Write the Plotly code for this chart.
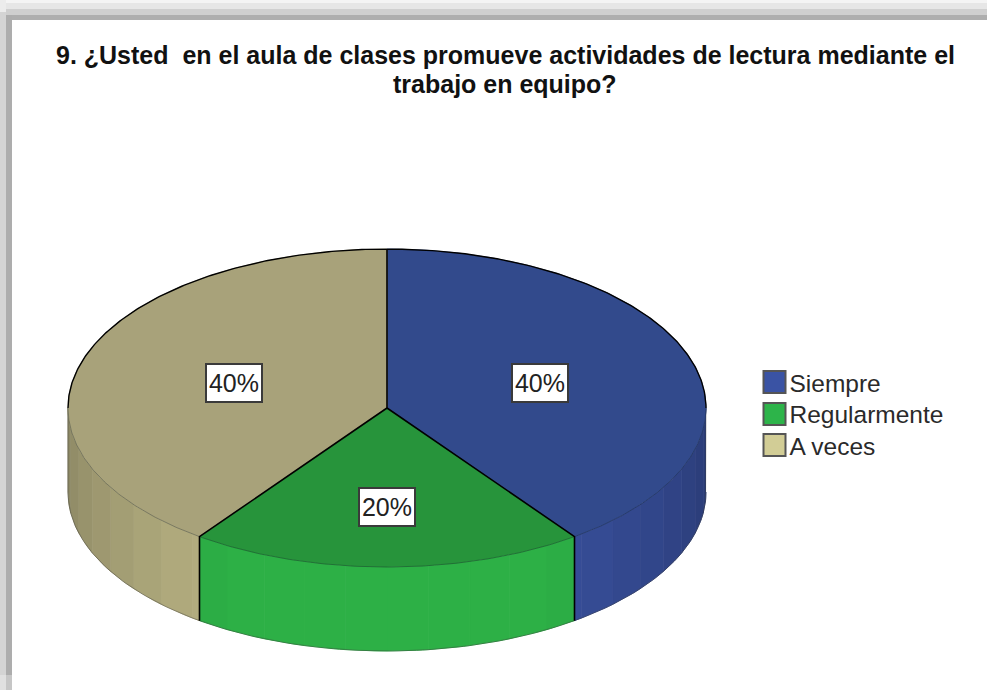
import numpy as np
import plotly.graph_objects as go

title_lines = ["9. ¿Usted\u00a0\u00a0en el aula de clases promueve actividades de lectura mediante el", "trabajo en equipo?"]
categories = ["Siempre", "Regularmente", "A veces"]
values = [40, 20, 40]
top_colors = ["#324a8c", "#27943b", "#a8a27a"]
side_colors = [(56, 79, 155), (45, 176, 70), (184, 178, 131)]
legend_colors = ["#3a53a4", "#2db44a", "#d2cd96"]
label_radius = [0.505, 0.62, 0.505]

CX, CY, RX, RY, DEPTH = 387, 408, 319, 159, 84
BAND = 7.5
FONT = "Liberation Sans, Arial, sans-serif"


def ex(a):
    return CX + RX * np.sin(np.radians(a))


def ey(a, d=0):
    return CY - RY * np.cos(np.radians(a)) + d


def shade(rgb, a):
    d = abs(a - 180)
    f = 1 - 0.25 * max(0.0, (d - 30) / 60)
    return "rgb(%d,%d,%d)" % tuple(int(c * f) for c in rgb)


fig = go.Figure()
total = sum(values)
edges = np.concatenate([[0], np.cumsum(values) / total * 360])

# side wall, in bands along the visible front half
for i in range(len(values)):
    lo, hi = max(edges[i], 90), min(edges[i + 1], 270)
    if hi <= lo:
        continue
    bands = np.arange(np.floor(lo / BAND) * BAND, hi, BAND)
    for b in bands:
        a0, a1 = max(b, lo), min(b + BAND, hi)
        arc = np.linspace(a0, a1, 8)
        mid = (a0 + a1) / 2
        col = shade(side_colors[i], mid)
        fig.add_trace(go.Scatter(
            x=np.concatenate([ex(arc), ex(arc[::-1])]),
            y=np.concatenate([ey(arc), ey(arc[::-1], DEPTH)]),
            mode="lines", fill="toself", fillcolor=col,
            line=dict(color=col, width=1), hoverinfo="skip", showlegend=False))

# outer lower silhouette, with the vertical ends
arc = np.linspace(90, 270, 181)
fig.add_trace(go.Scatter(
    x=np.concatenate([[ex(90.0)], ex(arc), [ex(270.0)]]),
    y=np.concatenate([[ey(90.0)], ey(arc, DEPTH), [ey(270.0)]]),
    mode="lines", line=dict(color="rgba(60,60,60,0.6)", width=0.7),
    hoverinfo="skip", showlegend=False))

# top face
for i, cat in enumerate(categories):
    arc = np.linspace(edges[i], edges[i + 1], 200)
    fig.add_trace(go.Scatter(
        x=np.concatenate([[CX], ex(arc), [CX]]),
        y=np.concatenate([[CY], ey(arc), [CY]]),
        mode="lines", fill="toself", fillcolor=top_colors[i],
        line=dict(color=top_colors[i], width=0.8),
        hoverinfo="skip", showlegend=False))

# rim: thin darker front, black back
for i in range(len(values)):
    lo, hi = max(edges[i], 90), min(edges[i + 1], 270)
    if hi > lo:
        arc = np.linspace(lo, hi, 120)
        fig.add_trace(go.Scatter(x=ex(arc), y=ey(arc), mode="lines",
                                 line=dict(color="rgba(20,30,40,0.4)", width=0.8),
                                 hoverinfo="skip", showlegend=False))
arc = np.linspace(-90, 90, 300)
fig.add_trace(go.Scatter(x=ex(arc), y=ey(arc), mode="lines",
                         line=dict(color="#000000", width=1.4),
                         hoverinfo="skip", showlegend=False))

# slice boundaries
for e in edges[:-1]:
    a = float(e)
    xs, ys = [CX, ex(a)], [CY, ey(a)]
    if 90 < a < 270:
        xs.append(ex(a))
        ys.append(ey(a, DEPTH))
    fig.add_trace(go.Scatter(x=xs, y=ys, mode="lines",
                             line=dict(color="#000000", width=1.6),
                             hoverinfo="skip", showlegend=False))

# legend
legend_swatch_y = [382, 414, 445]
legend_text_y = [385.5, 416.5, 448.5]
fig.add_trace(go.Scatter(
    x=[774.5] * 3, y=legend_swatch_y, mode="markers",
    marker=dict(symbol="square", size=22, color=legend_colors,
                line=dict(color="#555555", width=2)),
    hoverinfo="skip", showlegend=False))
fig.add_trace(go.Scatter(
    x=[789.5] * 3, y=legend_text_y, mode="text",
    text=categories, textposition="middle right",
    textfont=dict(family=FONT, size=24.5, color="#2a2a2a"),
    hoverinfo="skip", showlegend=False))

# percent labels
annotations = []
for i, v in enumerate(values):
    mid = (edges[i] + edges[i + 1]) / 2
    annotations.append(dict(
        x=CX + RX * label_radius[i] * np.sin(np.radians(mid)),
        y=CY - RY * label_radius[i] * np.cos(np.radians(mid)),
        xref="x", yref="y", text=f"{v}%", showarrow=False,
        width=54, height=36,
        font=dict(family=FONT, size=25, color="#222222"),
        bgcolor="#ffffff", bordercolor="#3a3a3a", borderwidth=2, borderpad=0))

# title
for line, yy in zip(title_lines, [55, 84]):
    annotations.append(dict(
        x=505, y=yy, xref="x", yref="y", text=f"<b>{line}</b>", showarrow=False,
        font=dict(family=FONT, size=25, color="#111111")))

# screenshot-style frame shadow
shapes = []
frame_rects = [
    (0, 987, 0, 3, "#f4f4f4"), (0, 987, 3, 9, "#e6e6e6"),
    (0, 987, 9, 15, "#cfcfcf"), (0, 987, 15, 20, "#aeaeae"),
    (0, 6, 12, 690, "#d4d4d4"), (6, 12, 15, 690, "#adadad"),
    (0, 6, 0, 12, "#ececec"), (0, 6, 675, 690, "#e0e0e0"), (6, 12, 675, 690, "#c6c6c6"),
]
for x0, x1, y0, y1, c in frame_rects:
    shapes.append(dict(type="rect", xref="x", yref="y", x0=x0, x1=x1, y0=y0, y1=y1,
                       fillcolor=c, line_width=0, layer="below"))

fig.update_layout(
    width=987, height=690, margin=dict(l=0, r=0, t=0, b=0),
    paper_bgcolor="#ffffff", plot_bgcolor="#ffffff", showlegend=False,
    xaxis=dict(range=[0, 987], visible=False, fixedrange=True),
    yaxis=dict(range=[690, 0], visible=False, fixedrange=True),
    annotations=annotations, shapes=shapes)

fig.write_html("out.html", post_script="document.body.style.margin='0';",
               config=dict(displayModeBar=False))
